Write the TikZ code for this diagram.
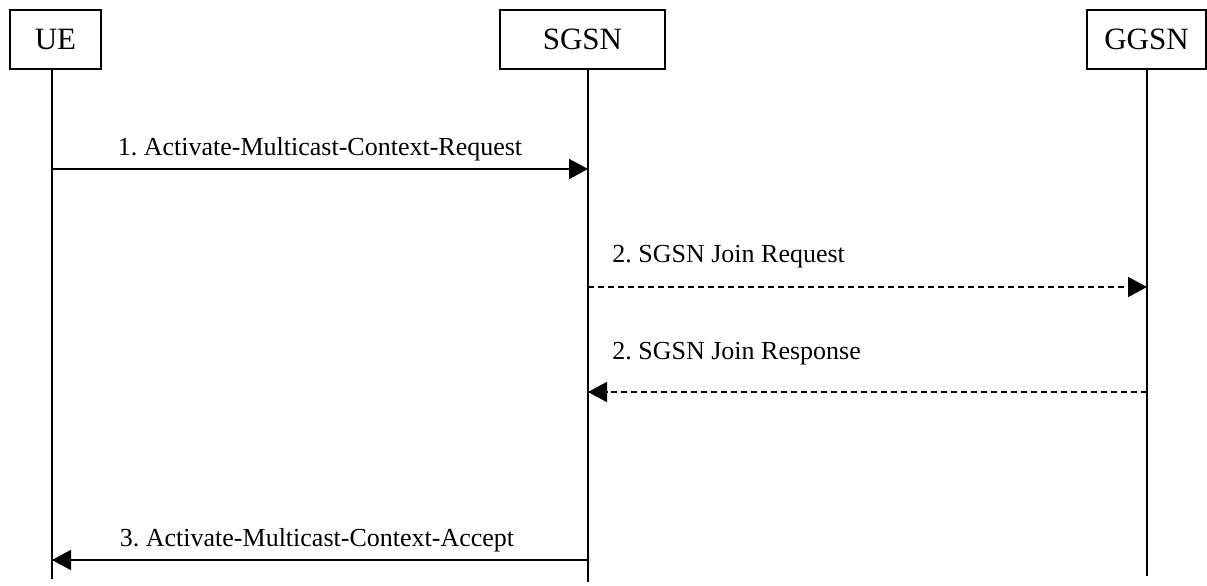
\documentclass[tikz,border=0pt]{standalone}
\usepackage{fontspec}
\setmainfont{Liberation Serif}
\usetikzlibrary{arrows.meta,positioning}
\tikzset{
  entity/.style={
    draw=black, line width=1pt, fill=white,
    inner sep=0pt, font=\fontsize{15.5}{18}\selectfont
  },
  lifeline/.style={draw=black, line width=1pt},
  msg/.style={-{Triangle[length=9.5pt, width=10pt]}, line width=0.9pt, draw=black},
  dashmsg/.style={msg, dash pattern=on 3pt off 2pt},
  msglabel/.style={anchor=base, inner sep=0pt, font=\fontsize{13}{15}\selectfont}
}
\frenchspacing
\begin{document}
\begin{tikzpicture}[x=0.5pt,y=-0.5pt]
        \useasboundingbox (0,0) rectangle (1207,585);
        \node[entity,minimum width=45.5pt,minimum height=29.5pt] (ue) at (55.5,39.5) {UE};
        \node[entity,minimum width=82.5pt,minimum height=29.5pt] (sgsn) at (582.5,39.5) {SGSN};
        \node[entity,minimum width=59.5pt,minimum height=29.5pt] (ggsn) at (1146.5,39.5) {GGSN};
        % lifelines
        \coordinate (ueTop) at (52,69);
        \coordinate (ueEnd) at (52,579);
        \coordinate (sgsnTop) at (588,69);
        \coordinate (sgsnEnd) at (588,582);
        \coordinate (ggsnTop) at (1147,69);
        \coordinate (ggsnEnd) at (1147,576);
        \draw[lifeline] (ueTop) -- (ueEnd);
        \draw[lifeline] (sgsnTop) -- (sgsnEnd);
        \draw[lifeline] (ggsnTop) -- (ggsnEnd);
        % messages
        \coordinate (ue1) at (52,169);
        \coordinate (sgsn1) at (588,169);
        \coordinate (sgsn2) at (588,287);
        \coordinate (ggsn2) at (1147,287);
        \coordinate (ggsn3) at (1147,392);
        \coordinate (sgsn3) at (588,392);
        \coordinate (sgsn4) at (588,560);
        \coordinate (ue4) at (52,560);
        \draw[msg] (ue1) -- (sgsn1);
        \node[msglabel] (m1) at (320,155) {1. Activate-Multicast-Context-Request};
        \draw[dashmsg] (sgsn2) -- (ggsn2);
        \node[msglabel,anchor=base west] (m2) at (612,262) {2. SGSN Join Request};
        \draw[dashmsg] (ggsn3) -- (sgsn3);
        \node[msglabel,anchor=base west] (m3) at (612,359) {2. SGSN Join Response};
        \draw[msg] (sgsn4) -- (ue4);
        \node[msglabel] (m4) at (317,546) {3. Activate-Multicast-Context-Accept};
      \end{tikzpicture}
\end{document}
